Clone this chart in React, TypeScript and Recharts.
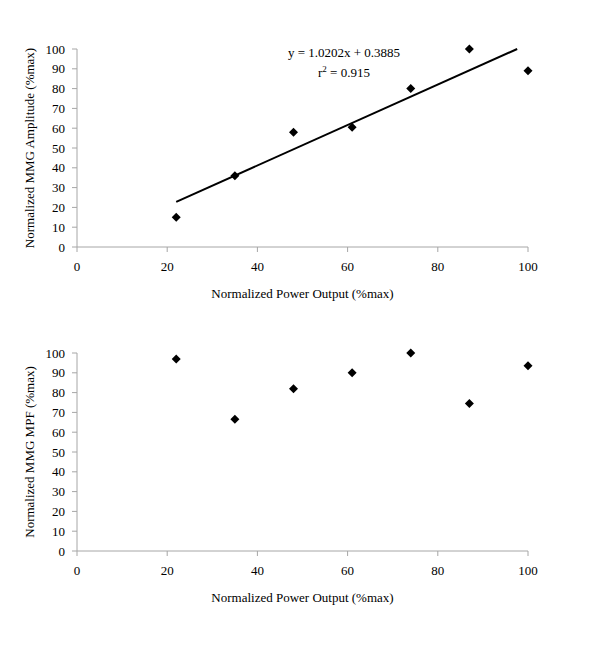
import { ScatterChart, Scatter, XAxis, YAxis, ReferenceLine } from 'recharts'

const powerOutput = [22, 35, 48, 61, 74, 87, 100]
const amplitude = [15, 36, 58, 60.5, 80, 100, 89]
const mpf = [97, 66.5, 82, 90, 100, 74.5, 93.5]

// Excel linear trendline, clipped at the top of the plot
const trendX = [22, 97.6]
const trendY = [22.8, 100]

const xTicks = [0, 20, 40, 60, 80, 100]
const yTicks = [0, 10, 20, 30, 40, 50, 60, 70, 80, 90, 100]

const FONT = "'Liberation Serif', 'Times New Roman', serif"
const AXIS = '#a6a6a6'

function Diamond(props: any) {
  const { cx, cy } = props
  const r = 4.5
  return (
    <path
      d={`M${cx},${cy - r}L${cx + r},${cy}L${cx},${cy + r}L${cx - r},${cy}Z`}
      fill="#000"
    />
  )
}

interface PanelProps {
  values: number[]
  yTitle: string
  top: number
  trend?: boolean
}

function Panel({ values, yTitle, top, trend }: PanelProps) {
  const data = powerOutput.map((x, i) => ({ x, y: values[i] }))
  const tick = { fill: '#000', fontSize: 13, fontFamily: FONT }

  return (
    <div style={{ position: 'absolute', left: 0, top }}>
      <ScatterChart width={600} height={304} margin={{ top: 49, right: 72, bottom: 0, left: 0 }}>
        <XAxis
          type="number"
          dataKey="x"
          domain={[0, 100]}
          ticks={xTicks}
          interval={0}
          height={57}
          stroke={AXIS}
          tick={tick}
          tickSize={5}
          tickMargin={10}
          label={{
            value: 'Normalized Power Output (%max)',
            position: 'center',
            dy: 17.5,
            style: { fill: '#000', fontSize: 13, fontFamily: FONT },
          }}
        />
        <YAxis
          type="number"
          dataKey="y"
          domain={[0, 100]}
          ticks={yTicks}
          interval={0}
          width={77}
          stroke={AXIS}
          tick={tick}
          tickSize={5}
          tickMargin={7}
          label={{
            value: yTitle,
            angle: -90,
            position: 'center',
            dx: -9.5,
            style: { fill: '#000', fontSize: 13, fontFamily: FONT, textAnchor: 'middle' },
          }}
        />
        {trend && (
          <ReferenceLine
            segment={[
              { x: trendX[0], y: trendY[0] },
              { x: trendX[1], y: trendY[1] },
            ]}
            stroke="#000"
            strokeWidth={2}
          />
        )}
        <Scatter data={data} shape={<Diamond />} isAnimationActive={false} />
      </ScatterChart>
    </div>
  )
}

export default function App() {
  return (
    <div style={{ position: 'absolute', left: 0, top: 0, width: 600, height: 655, background: '#fff', fontFamily: FONT }}>
      <Panel values={amplitude} yTitle="Normalized MMG Amplitude (%max)" top={0} trend />
      <Panel values={mpf} yTitle="Normalized MMG MPF (%max)" top={304} />
      <div
        style={{
          position: 'absolute',
          left: 344,
          top: 43,
          transform: 'translateX(-50%)',
          fontSize: 13,
          lineHeight: '20px',
          textAlign: 'center',
          whiteSpace: 'nowrap',
          color: '#000',
        }}
      >
        <div>y = 1.0202x + 0.3885</div>
        <div>
          r<sup style={{ fontSize: 9, lineHeight: 0 }}>2</sup> = 0.915
        </div>
      </div>
    </div>
  )
}
